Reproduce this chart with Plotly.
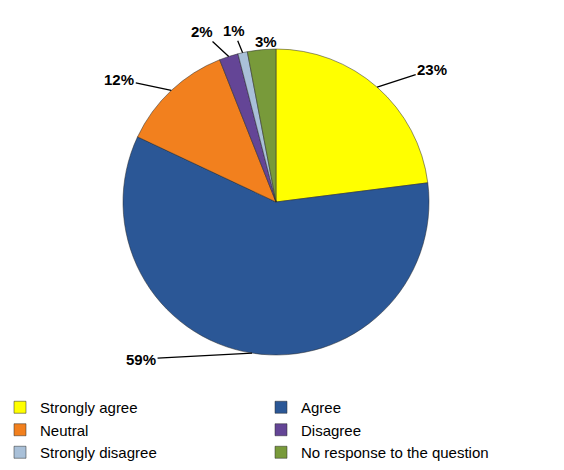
import numpy as np
import plotly.graph_objects as go

labels = ["Strongly agree", "Agree", "Neutral", "Disagree", "Strongly disagree",
          "No response to the question"]
values = [23, 59, 12, 2, 1, 3]
text_labels = ["23%", "59%", "12%", "2%", "1%", "3%"]
colors = ["#FFFF00", "#2B5796", "#F2801E", "#644596", "#A9C0D8", "#789A3A"]

W, H = 564, 470
cx, cy, r = 276, 202, 153  # pie centre / radius in pixels (layout)

# label offsets (pixels) from the slice edge point, and whether to draw a leader line
offsets = [(55, -18), (-111, 6), (-52, -11), (-27, -25), (-9, -22), (4, -19)]
leader = [True, True, True, True, True, False]

fig = go.Figure()
fig.add_trace(go.Pie(
    labels=labels, values=values, sort=False, direction="clockwise", rotation=0,
    marker=dict(colors=colors, line=dict(color="rgba(40,40,40,0.5)", width=1)),
    textinfo="none", hoverinfo="label+percent",
    domain=dict(x=[(cx - r) / W, (cx + r) / W], y=[1 - (cy + r) / H, 1 - (cy - r) / H]),
))

vals = np.array(values, dtype=float)
cum = np.cumsum(vals) - vals / 2
ang = cum / vals.sum() * 2 * np.pi
lab_font = dict(family="Liberation Sans, Arial", size=15, color="#000")
for a, t, (ox, oy), ld in zip(ang, text_labels, offsets, leader):
    px = cx + r * np.sin(a)
    py = cy - r * np.cos(a)
    if ld:
        fig.add_annotation(x=px / W, y=1 - py / H, xref="paper", yref="paper",
                           text=f"<b>{t}</b>", showarrow=True, arrowhead=0,
                           arrowwidth=1.3, arrowcolor="#000", ax=ox, ay=oy,
                           font=lab_font)
    else:
        fig.add_annotation(x=(px + ox) / W, y=1 - (py + oy) / H, xref="paper", yref="paper",
                           text=f"<b>{t}</b>", showarrow=False, font=lab_font)

fig.update_layout(
    width=W, height=H, margin=dict(l=0, r=0, t=0, b=0, autoexpand=False),
    paper_bgcolor="white", plot_bgcolor="white",
    font=dict(family="Liberation Sans, Arial", size=15, color="#000"),
    showlegend=True,
    legend=dict(orientation="h", x=0, y=1 - 391 / H, xanchor="left", yanchor="top",
                entrywidth=216, entrywidthmode="pixels", traceorder="normal",
                font=dict(size=15), itemwidth=30),
)
fig.write_html("out.html")
